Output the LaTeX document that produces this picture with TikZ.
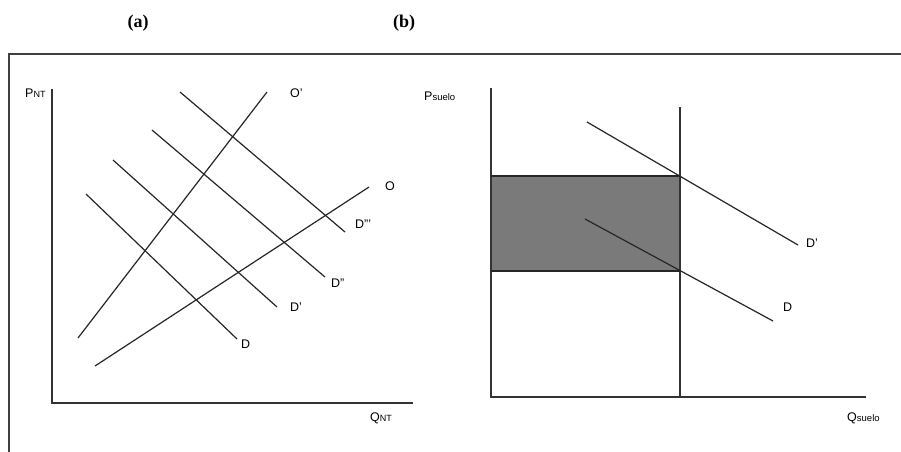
\documentclass[tikz,border=0pt]{standalone}
\usepackage{fontspec}
\setmainfont{Liberation Serif}
\setsansfont{Liberation Sans}
\begin{document}
\begin{tikzpicture}[x=1pt,y=-1pt,
  curve/.style={line width=1.2pt,black!85},
  axis/.style={line width=1.2pt,black!80},
  lbl/.style={font=\sffamily\fontsize{12.5}{12.5}\selectfont,inner sep=0pt,anchor=west},
  ttl/.style={font=\bfseries\fontsize{18}{18}\selectfont,inner sep=0pt}]
\useasboundingbox (0,0) rectangle (901,451);
\fill[white] (0,0) rectangle (901,451);
% titles
\node[ttl] (ta) at (138,23) {(a)};
\node[ttl] (tb) at (404,23) {(b)};
% frame
\coordinate (f1) at (9,452);
\coordinate (f2) at (9,54);
\coordinate (f3) at (902,54);
\draw[line width=1.6pt,black!75] (f1) -- (f2) -- (f3);
% ---------- panel (a)
\coordinate (ay) at (52,89);
\coordinate (ao) at (52,403);
\coordinate (ax) at (413,403);
\draw[axis] (ay) -- (ao) -- (ax);
\node[lbl] (pnt) at (25,93) {P{\fontsize{9}{9}\selectfont NT}};
\node[lbl] (qnt) at (370,418) {Q{\fontsize{9}{9}\selectfont NT}};
% supply curves
\coordinate (op1) at (78,338);  \coordinate (op2) at (267,92);
\coordinate (o1) at (95,366);   \coordinate (o2) at (369,187);
\draw[curve] (op1) -- (op2);
\draw[curve] (o1) -- (o2);
\node[lbl] (lop) at (290,93) {O'};
\node[lbl] (lo) at (385,186) {O};
% demand curves
\coordinate (d31) at (180,92);  \coordinate (d32) at (345,232);
\coordinate (d21) at (152,130); \coordinate (d22) at (325,277);
\coordinate (d11) at (113,160); \coordinate (d12) at (277,307);
\coordinate (d01) at (86,194);  \coordinate (d02) at (237,339);
\draw[curve] (d31) -- (d32);
\draw[curve] (d21) -- (d22);
\draw[curve] (d11) -- (d12);
\draw[curve] (d01) -- (d02);
\node[lbl] (ld3) at (355,224) {D'''};
\node[lbl] (ld2) at (331,283) {D''};
\node[lbl] (ld1) at (290,307) {D'};
\node[lbl] (ld0) at (241,344) {D};
% ---------- panel (b)
\fill[black!52] (491,176) rectangle (680,271);
\coordinate (by) at (491,88);
\coordinate (bo) at (491,397);
\coordinate (bx) at (866,397);
\draw[axis] (by) -- (bo) -- (bx);
\coordinate (v1) at (680,107);
\coordinate (v2) at (680,397);
\draw[axis] (v1) -- (v2);
\coordinate (r1) at (491,176); \coordinate (r2) at (680,176);
\coordinate (r3) at (491,271); \coordinate (r4) at (680,271);
\draw[line width=2pt,black!85] (r1) -- (r2);
\draw[line width=2pt,black!85] (r3) -- (r4);
\coordinate (bd11) at (587,122); \coordinate (bd12) at (798,245);
\coordinate (bd01) at (585,219); \coordinate (bd02) at (773,321);
\draw[curve] (bd11) -- (bd12);
\draw[curve] (bd01) -- (bd02);
\node[lbl] (lbd1) at (806,243) {D'};
\node[lbl] (lbd0) at (783,307) {D};
\node[lbl] (ps) at (424,96) {P{\fontsize{9.5}{9.5}\selectfont suelo}};
\node[lbl] (qs) at (847,418) {Q{\fontsize{9.5}{9.5}\selectfont suelo}};
\end{tikzpicture}
\end{document}
